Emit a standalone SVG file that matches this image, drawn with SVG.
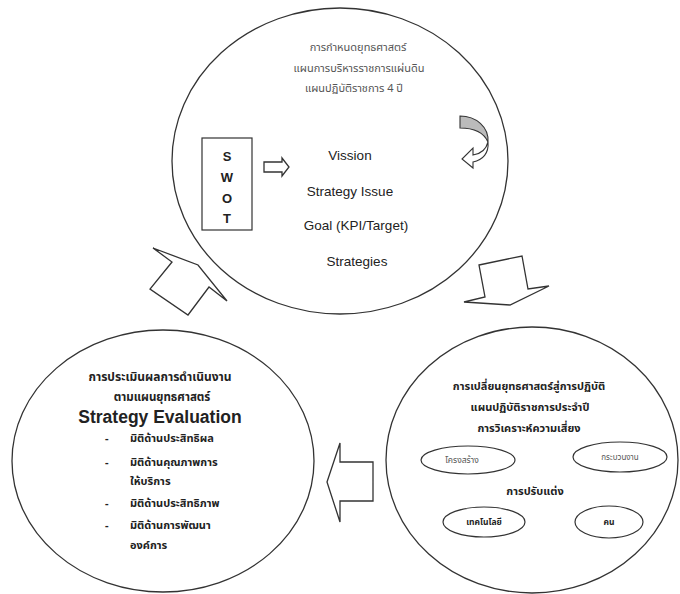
<svg xmlns="http://www.w3.org/2000/svg" width="680" height="594" viewBox="0 0 680 594">
<style>
.big{fill:#fff;stroke:#333;stroke-width:1.3}
.sm{fill:#fff;stroke:#333;stroke-width:1.2}
.arr{fill:#fff;stroke:#333;stroke-width:1.3;stroke-linejoin:miter}
.en{font-family:"Liberation Sans",Arial,sans-serif;fill:#222;text-anchor:middle}
.th{font-family:"Noto Sans Thai","Tahoma","Loma","Garuda","DejaVu Sans",sans-serif;fill:#222;text-anchor:middle}
.thl{font-family:"Noto Sans Thai","Tahoma","Loma","Garuda","DejaVu Sans",sans-serif;fill:#555;text-anchor:middle}
.b{font-weight:bold}
</style>
<rect width="680" height="594" fill="#fff"/>
<g id="connectors">
  <polygon class="arr" points="479,265 522,256 528,289 549,286 510,305 464,302 485,297"/>
  <polygon class="arr" points="327,482 340,443 340,462 373,462 373,501 340,501 340,522"/>
  <polygon class="arr" points="153,248 198,265 227,301 209,287 188,315 150,289 172,262"/>
</g>
<g id="node-plan">
  <ellipse class="big" cx="340" cy="161" rx="168" ry="153"/>
  <text class="thl" font-size="11" x="358" y="51">การกำหนดยุทธศาสตร์</text>
  <text class="thl" font-size="11" x="359" y="72">แผนการบริหารราชการแผ่นดิน</text>
  <text class="thl" font-size="11" x="354" y="92">แผนปฏิบัติราชการ 4 ปี</text>
  <text class="en" font-size="13.5" x="350" y="160">Vission</text>
  <text class="en" font-size="13.5" x="350" y="196">Strategy Issue</text>
  <text class="en" font-size="13.5" x="356" y="230">Goal (KPI/Target)</text>
  <text class="en" font-size="13.5" x="357" y="266">Strategies</text>
</g>
<g id="node-swot">
  <rect x="202" y="138" width="50" height="92" fill="#fff" stroke="#333" stroke-width="1.2"/>
  <text class="en b" font-size="13" x="227" y="161">S</text>
  <text class="en b" font-size="13" x="227" y="182">W</text>
  <text class="en b" font-size="13" x="227" y="203">O</text>
  <text class="en b" font-size="13" x="227" y="223">T</text>
</g>
<g id="swot-arrow">
  <polygon class="arr" stroke-width="1.1" points="264,162 282,162 282,158 289,167 282,176 282,172 264,172"/>
</g>
<g id="cycle-arrow">
  <path d="M460,116 C476,116 489,127 488,142 C484,133 474,128 460,128 Z" fill="#bbb" stroke="#333" stroke-width="1.1"/>
  <path d="M488,142 C489,153 483,160 473,162 L473,168 L462,159 L473,148 L473,155 C480,154 486,150 488,142 Z" fill="#fff" stroke="#333" stroke-width="1.1"/>
</g>
<g id="node-eval">
  <ellipse class="big" cx="163" cy="461" rx="151" ry="131"/>
  <text class="th b" font-size="12" x="160" y="381">การประเมินผลการดำเนินงาน</text>
  <text class="th b" font-size="11.5" x="162" y="401">ตามแผนยุทธศาสตร์</text>
  <text class="en b" font-size="17.5" x="160" y="423">Strategy Evaluation</text>
  <g class="th b" font-size="11" style="text-anchor:start">
    <text x="105" y="442">-</text><text x="130" y="442">มิติด้านประสิทธิผล</text>
    <text x="105" y="466">-</text><text x="130" y="466">มิติด้านคุณภาพการ</text>
    <text x="130" y="485">ให้บริการ</text>
    <text x="105" y="507">-</text><text x="130" y="507">มิติด้านประสิทธิภาพ</text>
    <text x="105" y="529">-</text><text x="130" y="529">มิติด้านการพัฒนา</text>
    <text x="130" y="549">องค์การ</text>
  </g>
</g>
<g id="node-implement">
  <ellipse class="big" cx="532" cy="460" rx="146" ry="133"/>
  <text class="th b" font-size="11" x="529" y="390">การเปลี่ยนยุทธศาสตร์สู่การปฏิบัติ</text>
  <text class="th b" font-size="11" x="530" y="411">แผนปฏิบัติราชการประจำปี</text>
  <text class="th b" font-size="11" x="529" y="432">การวิเคราะห์ความเสี่ยง</text>
  <text class="th b" font-size="11" x="535" y="495">การปรับแต่ง</text>
</g>
<g id="node-structure">
  <ellipse class="sm" cx="468" cy="460" rx="47" ry="14"/>
  <text class="thl" font-size="8.5" x="462" y="463">โครงสร้าง</text>
</g>
<g id="node-process">
  <ellipse class="sm" cx="620" cy="457" rx="47" ry="15"/>
  <text class="thl" font-size="8" x="620" y="460">กระบวนงาน</text>
</g>
<g id="node-tech">
  <ellipse class="sm" cx="484" cy="522" rx="41" ry="15"/>
  <text class="th b" font-size="8.5" x="484" y="525">เทคโนโลยี</text>
</g>
<g id="node-people">
  <ellipse class="sm" cx="609" cy="522" rx="34" ry="16"/>
  <text class="th b" font-size="8.5" x="609" y="525">คน</text>
</g>
</svg>
